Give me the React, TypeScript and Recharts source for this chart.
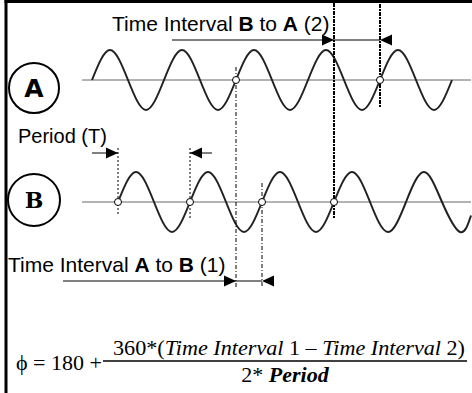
import React from 'react';
import { ComposedChart, Line, XAxis, YAxis, ReferenceLine, ReferenceDot } from 'recharts';

// Wave A: sample times (x) and normalized amplitude values
const waveATime = [92, 110, 128, 146, 164, 182, 200, 218, 236, 254, 272, 290, 308, 326, 344, 362, 380, 398, 416, 434, 452];
const waveAValue = [0, 1, 0, -1, 0, 1, 0, -1, 0, 1, 0, -1, 0, 1, 0, -1, 0, 1, 0, -1, 0];
// Wave B
const waveBTime = [118, 136, 154, 172, 190, 208, 226, 244, 262, 280, 298, 316, 334, 352, 370, 388, 406, 424, 442, 460, 471];
const waveBValue = [0, 1, 0, -1, 0, 1, 0, -1, 0, 1, 0, -1, 0, 1, 0, -1, 0, 1, 0, -1, -0.45];
// Zero crossings marked with open circles
const crossingsA = [236, 380];
const crossingsB = [118, 190, 262, 334];
// Axis extents
const axisStart = 82;
const axisEnd = 471;

const W = 472;
const H = 393;
const AMP_PX = 30;
const A_BASE = 80;
const B_BASE = 202;

const dataA = waveATime.map((t, i) => ({ t, v: waveAValue[i] }));
const dataB = waveBTime.map((t, i) => ({ t, v: waveBValue[i] }));

const arrowRight = (p: any) => (
  <polygon points={`${p.cx},${p.cy} ${p.cx - 12},${p.cy - 5.5} ${p.cx - 12},${p.cy + 5.5}`} fill="#000" />
);
const arrowLeft = (p: any) => (
  <polygon points={`${p.cx},${p.cy} ${p.cx + 12},${p.cy - 5.5} ${p.cx + 12},${p.cy + 5.5}`} fill="#000" />
);

const thinDash = '4 2 1 2';
const thickDash = '4 1 2 1';

export default function App() {
  return (
    <div style={{ position: 'relative', width: W, height: H, background: '#fff' }}>
      <style>{`body{margin:0}`}</style>
      <ComposedChart width={W} height={H} margin={{ top: 0, right: 0, bottom: 0, left: 0 }}>
        <XAxis type="number" dataKey="t" domain={[0, W]} allowDataOverflow hide />
        <YAxis yAxisId="A" type="number" domain={[-(H - A_BASE) / AMP_PX, A_BASE / AMP_PX]} allowDataOverflow hide />
        <YAxis yAxisId="B" type="number" domain={[-(H - B_BASE) / AMP_PX, B_BASE / AMP_PX]} allowDataOverflow hide />
        <YAxis yAxisId="px" type="number" domain={[0, H]} reversed allowDataOverflow hide />

        <ReferenceLine yAxisId="A" segment={[{ x: axisStart, y: 0 }, { x: axisEnd, y: 0 }]} stroke="#666" strokeWidth={1} />
        <ReferenceLine yAxisId="B" segment={[{ x: axisStart, y: 0 }, { x: axisEnd, y: 0 }]} stroke="#666" strokeWidth={1} />

        <Line yAxisId="A" data={dataA} dataKey="v" type="natural" stroke="#222" strokeWidth={2} dot={false} activeDot={false} isAnimationActive={false} />
        <Line yAxisId="B" data={dataB} dataKey="v" type="natural" stroke="#222" strokeWidth={2} dot={false} activeDot={false} isAnimationActive={false} />

        {/* vertical guides */}
        <ReferenceLine yAxisId="px" segment={[{ x: 118, y: 148 }, { x: 118, y: 214 }]} stroke="#000" strokeWidth={1} strokeDasharray="2 2" />
        <ReferenceLine yAxisId="px" segment={[{ x: 190, y: 148 }, { x: 190, y: 218 }]} stroke="#000" strokeWidth={1} strokeDasharray="2 2" />
        <ReferenceLine yAxisId="px" segment={[{ x: 236, y: 67 }, { x: 236, y: 288 }]} stroke="#000" strokeWidth={1} strokeDasharray={thinDash} />
        <ReferenceLine yAxisId="px" segment={[{ x: 262, y: 183 }, { x: 262, y: 288 }]} stroke="#000" strokeWidth={1} strokeDasharray={thinDash} />
        <ReferenceLine yAxisId="px" segment={[{ x: 334, y: 3 }, { x: 334, y: 218 }]} stroke="#000" strokeWidth={2} strokeDasharray={thickDash} />
        <ReferenceLine yAxisId="px" segment={[{ x: 380, y: 4 }, { x: 380, y: 107 }]} stroke="#000" strokeWidth={2} strokeDasharray={thickDash} />

        {/* arrows */}
        <ReferenceLine yAxisId="px" segment={[{ x: 172, y: 40 }, { x: 380, y: 40 }]} stroke="#000" strokeWidth={1} />
        <ReferenceDot yAxisId="px" x={334} y={40} shape={arrowRight} />
        <ReferenceDot yAxisId="px" x={380} y={40} shape={arrowLeft} />

        <ReferenceLine yAxisId="px" segment={[{ x: 92, y: 153 }, { x: 118, y: 153 }]} stroke="#000" strokeWidth={1} />
        <ReferenceDot yAxisId="px" x={118} y={153} shape={arrowRight} />
        <ReferenceLine yAxisId="px" segment={[{ x: 190, y: 153 }, { x: 212, y: 153 }]} stroke="#000" strokeWidth={1} />
        <ReferenceDot yAxisId="px" x={190} y={153} shape={arrowLeft} />

        <ReferenceLine yAxisId="px" segment={[{ x: 63, y: 281 }, { x: 262, y: 281 }]} stroke="#000" strokeWidth={1} />
        <ReferenceDot yAxisId="px" x={236} y={281} shape={arrowRight} />
        <ReferenceDot yAxisId="px" x={262} y={281} shape={arrowLeft} />

        {/* big labels circles */}
        <ReferenceDot yAxisId="px" x={34} y={88} r={25} fill="#fff" stroke="#000" strokeWidth={2} />
        <ReferenceDot yAxisId="px" x={34} y={200} r={26} fill="#fff" stroke="#000" strokeWidth={2} />

        {crossingsA.map((x) => (
          <ReferenceDot key={`a${x}`} yAxisId="A" x={x} y={0} r={3.5} fill="#fff" stroke="#000" strokeWidth={1} />
        ))}
        {crossingsB.map((x) => (
          <ReferenceDot key={`b${x}`} yAxisId="B" x={x} y={0} r={3.5} fill="#fff" stroke="#000" strokeWidth={1} />
        ))}
      </ComposedChart>

      <svg width={W} height={H} style={{ position: 'absolute', left: 0, top: 0, pointerEvents: 'none' }}>
        <rect x={4.5} y={0} width={472} height={3} fill="#000" />
        <rect x={4.5} y={0} width={3} height={H} fill="#000" />

        <text x={34} y={97} textAnchor="middle" fontFamily="DejaVu Sans" fontWeight="bold" fontSize={25} fill="#000">A</text>
        <text x={34} y={208} textAnchor="middle" fontFamily="DejaVu Serif" fontWeight="bold" fontSize={22} fill="#000">B</text>

        <g fontFamily="Liberation Sans, Arial, sans-serif" fill="#000">
          <text x={112} y={31} fontSize={21} style={{ whiteSpace: 'pre' }}>
            Time Interval <tspan fontWeight="bold">B</tspan> to <tspan fontWeight="bold">A</tspan> (2)
          </text>
          <text x={18} y={143} fontSize={20}>Period (T)</text>
          <text x={8} y={272} fontSize={21} style={{ whiteSpace: 'pre' }}>
            Time Interval <tspan fontWeight="bold">A</tspan> to <tspan fontWeight="bold">B</tspan> (1)
          </text>
        </g>

        <g fontFamily="Liberation Serif, 'Times New Roman', serif" fill="#000">
          <text x={16} y={370} fontSize={22} style={{ whiteSpace: 'pre' }}>ϕ = 180 +</text>
          <line x1={103} y1={361} x2={467} y2={361} stroke="#000" strokeWidth={1.3} />
          <text x={113} y={355} fontSize={21} textLength={352} lengthAdjust="spacingAndGlyphs" style={{ whiteSpace: 'pre' }}>
            360*(<tspan fontStyle="italic">Time Interval</tspan> 1 – <tspan fontStyle="italic">Time Interval</tspan> 2)
          </text>
          <text x={285} y={382} fontSize={22} textAnchor="middle" style={{ whiteSpace: 'pre' }}>
            2* <tspan fontStyle="italic" fontWeight="bold">Period</tspan>
          </text>
        </g>
      </svg>
    </div>
  );
}
